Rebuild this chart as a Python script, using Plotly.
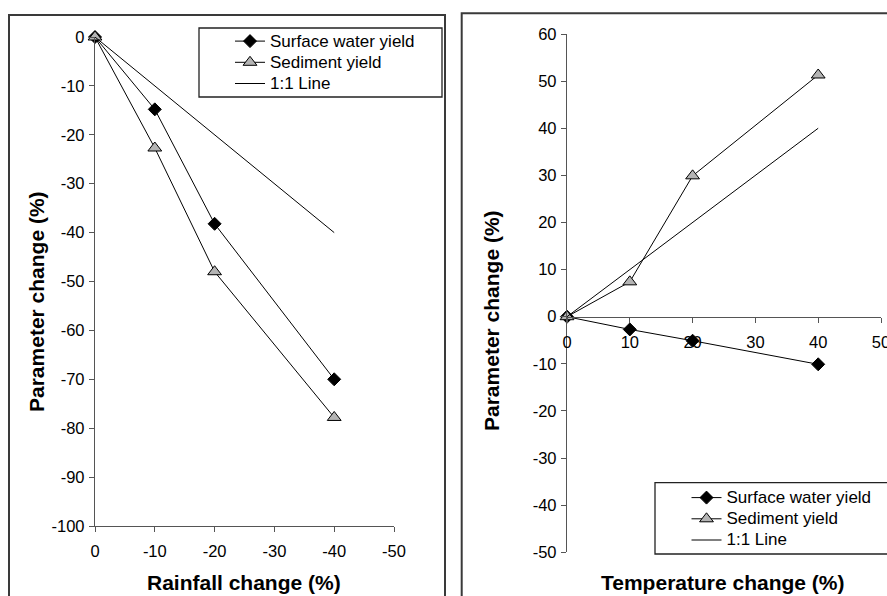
import plotly.graph_objects as go

# ---- data ----
rain_change = [0, -10, -20, -40]
rain_surface = [0, -14.8, -38.2, -70.0]
rain_sediment = [0, -22.7, -48.0, -77.8]
rain_line_x = [0, -40]
rain_line_y = [0, -40]

temp_change = [0, 10, 20, 40]
temp_surface = [0, -2.7, -5.1, -10.1]
temp_sediment = [0, 7.4, 29.9, 51.3]
temp_line_x = [0, 40]
temp_line_y = [0, 40]

left_xticks = [0, -10, -20, -30, -40, -50]
left_yticks = [0, -10, -20, -30, -40, -50, -60, -70, -80, -90, -100]
right_xticks = [0, 10, 20, 30, 40, 50]
right_yticks = [60, 50, 40, 30, 20, 10, 0, -10, -20, -30, -40, -50]

names = ["Surface water yield", "Sediment yield", "1:1 Line"]

W, H = 887, 596
FONT = "Arial, Liberation Sans, sans-serif"


def px(x):
    return x / W


def py(y):
    return 1 - y / H


def lbl(vals):
    return [str(v) for v in vals]


def legname(s):
    return '<span style="font-size:17px">' + s + '</span>'


diamond = dict(symbol="diamond", size=10, color="black", line=dict(color="black", width=1))
triangle = dict(symbol="triangle-up", size=12, color="#b4b4b4", line=dict(color="black", width=1))
linestyle = dict(color="black", width=1)

fig = go.Figure()

# left panel
fig.add_trace(go.Scatter(x=rain_change, y=rain_surface, name=legname(names[0]), mode="lines+markers",
                         line=linestyle, marker=diamond, xaxis="x", yaxis="y",
                         legend="legend", cliponaxis=False))
fig.add_trace(go.Scatter(x=rain_change, y=rain_sediment, name=legname(names[1]), mode="lines+markers",
                         line=linestyle, marker=triangle, xaxis="x", yaxis="y",
                         legend="legend", cliponaxis=False))
fig.add_trace(go.Scatter(x=rain_line_x, y=rain_line_y, name=legname(names[2]), mode="lines",
                         line=linestyle, xaxis="x", yaxis="y",
                         legend="legend", cliponaxis=False))

# right panel
fig.add_trace(go.Scatter(x=temp_change, y=temp_surface, name=legname(names[0]), mode="lines+markers",
                         line=linestyle, marker=diamond, xaxis="x2", yaxis="y2",
                         legend="legend2", cliponaxis=False))
fig.add_trace(go.Scatter(x=temp_change, y=temp_sediment, name=legname(names[1]), mode="lines+markers",
                         line=linestyle, marker=triangle, xaxis="x2", yaxis="y2",
                         legend="legend2", cliponaxis=False))
fig.add_trace(go.Scatter(x=temp_line_x, y=temp_line_y, name=legname(names[2]), mode="lines",
                         line=linestyle, xaxis="x2", yaxis="y2",
                         legend="legend2", cliponaxis=False))

AXC = "#555555"
tickfont = dict(family=FONT, size=16.5, color="black")
common = dict(showgrid=False, zeroline=False, showline=True, linecolor=AXC, linewidth=1.3,
              ticks="outside", ticklen=5, tickcolor=AXC, tickwidth=1.3, tickfont=tickfont,
              automargin=False, ticklabeloverflow="allow")

y_right_pos0 = 316.7

legfont = dict(family=FONT, size=14, color="black")

fig.update_layout(
    width=W, height=H,
    margin=dict(l=0, r=0, t=0, b=0, autoexpand=False),
    paper_bgcolor="white", plot_bgcolor="rgba(0,0,0,0)",
    xaxis=dict(domain=[px(95), px(394)], range=[0, -50], tickvals=left_xticks,
               ticktext=lbl(left_xticks), anchor="y", ticklabelstandoff=5, **common),
    yaxis=dict(domain=[py(526), py(37)], range=[-100, 0], tickvals=left_yticks,
               ticktext=lbl(left_yticks), anchor="x", ticklabelstandoff=1, **common),
    xaxis2=dict(domain=[px(567), px(881)], range=[0, 50], tickvals=right_xticks,
                ticktext=lbl(right_xticks), anchor="free", position=py(y_right_pos0),
                ticklabelstandoff=5, **common),
    yaxis2=dict(domain=[py(552.3), py(34)], range=[-50, 60], tickvals=right_yticks,
                ticktext=lbl(right_yticks), anchor="x2", ticklabelstandoff=1, **common),
    legend=dict(x=px(230), y=py(25.5), xanchor="left", yanchor="top",
                bgcolor="rgba(0,0,0,0)", borderwidth=0, font=legfont, tracegroupgap=0),
    legend2=dict(x=px(686.5), y=py(482), xanchor="left", yanchor="top",
                 bgcolor="rgba(0,0,0,0)", borderwidth=0, font=legfont, tracegroupgap=0),
    showlegend=True,
)

# frames and legend boxes
shapes = [
    dict(type="rect", xref="paper", yref="paper", x0=px(9), x1=px(445), y0=py(620), y1=py(15),
         line=dict(color="#3a3a3a", width=2), fillcolor="rgba(0,0,0,0)", layer="below"),
    dict(type="rect", xref="paper", yref="paper", x0=px(461.7), x1=px(920), y0=py(620), y1=py(13.3),
         line=dict(color="#3a3a3a", width=2), fillcolor="rgba(0,0,0,0)", layer="below"),
    dict(type="rect", xref="paper", yref="paper", x0=px(199), x1=px(442), y0=py(97), y1=py(28),
         line=dict(color="#222222", width=1.3), fillcolor="rgba(0,0,0,0)"),
    dict(type="rect", xref="paper", yref="paper", x0=px(655), x1=px(920), y0=py(554), y1=py(482.7),
         line=dict(color="#222222", width=1.3), fillcolor="rgba(0,0,0,0)"),
]
fig.update_layout(shapes=shapes)

titlefont = dict(family=FONT, size=21, color="black")
annotations = [
    dict(text="<b>Rainfall change (%)</b>", x=px(244), y=py(582), xref="paper", yref="paper",
         showarrow=False, xanchor="center", yanchor="middle", font=titlefont),
    dict(text="<b>Temperature change (%)</b>", x=px(723), y=py(582), xref="paper", yref="paper",
         showarrow=False, xanchor="center", yanchor="middle", font=titlefont),
    dict(text="<b>Parameter change (%)</b>", x=px(36), y=py(302), xref="paper", yref="paper",
         showarrow=False, xanchor="center", yanchor="middle", textangle=-90, font=titlefont),
    dict(text="<b>Parameter change (%)</b>", x=px(491), y=py(321), xref="paper", yref="paper",
         showarrow=False, xanchor="center", yanchor="middle", textangle=-90, font=titlefont),
]
fig.update_layout(annotations=annotations)

fig.write_html("out.html", config={"displayModeBar": False},
               post_script="document.body.style.margin='0';document.body.style.overflow='hidden';")
